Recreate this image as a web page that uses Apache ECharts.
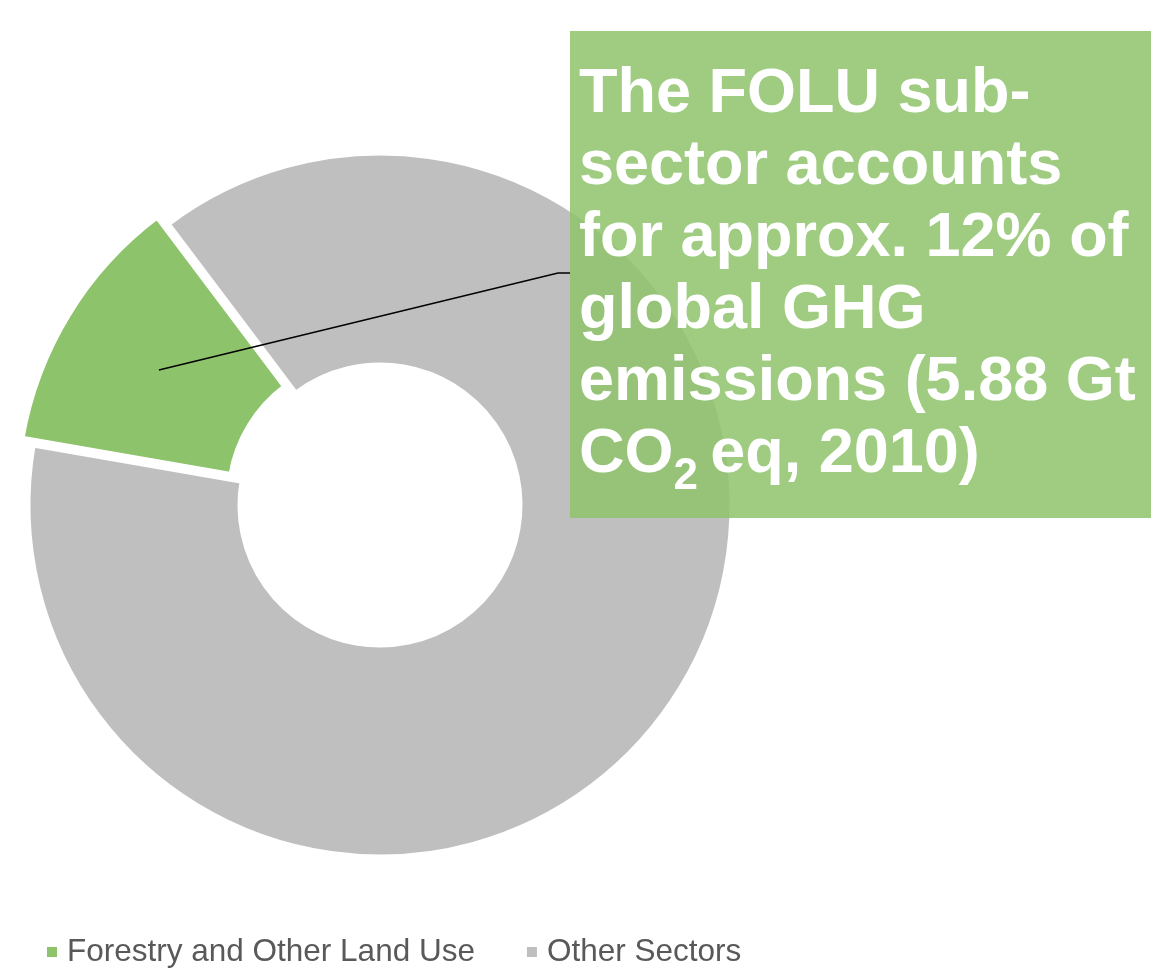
<!DOCTYPE html>
<html>
<head>
<meta charset="utf-8">
<script src="https://cdn.jsdelivr.net/npm/echarts@6/dist/echarts.min.js"></script>
<style>
  html, body { margin: 0; padding: 0; background: #fff; }
  #chart { width: 1151px; height: 970px; }
</style>
</head>
<body>
<div id="chart"></div>
<script>
const categories = ['Forestry and Other Land Use', 'Other Sectors']
const shares = [12, 88]
const colors = ['#8dc36b', '#bfbfbf']

const calloutLines = [
  'The FOLU sub-',
  'sector accounts',
  'for approx. 12% of',
  'global GHG',
  'emissions (5.88 Gt',
  '{m|CO}{sub|2 }{m|eq, 2010)}'
]

const center = [380, 505]
const radius = [140, 352]
const startAngle = 170.2
const explode = 13

// leader line starts at the middle of the exploded FOLU slice
const total = shares.reduce((a, b) => a + b, 0)
const midDeg = startAngle - 360 * shares[0] / total / 2
const midRad = midDeg * Math.PI / 180
const rMid = (radius[0] + radius[1]) / 2 + explode
const lineStart = [center[0] + rMid * Math.cos(midRad), center[1] - rMid * Math.sin(midRad)]

const box = { x: 570, y: 31, width: 581, height: 487 }

const chart = echarts.init(document.getElementById('chart'))
chart.setOption({
  animation: false,
  backgroundColor: '#fff',
  legend: {
    left: 47,
    top: 936,
    padding: 0,
    icon: 'rect',
    itemWidth: 10,
    itemHeight: 10,
    itemGap: 52,
    selectedMode: false,
    itemStyle: { borderWidth: 0 },
    textStyle: {
      fontFamily: 'Liberation Sans, Arial, sans-serif',
      fontSize: 31.5,
      color: '#595959',
      padding: [0, 0, 0, 5]
    },
    data: categories
  },
  series: [{
    type: 'pie',
    center: center,
    radius: radius,
    startAngle: startAngle,
    clockwise: true,
    selectedMode: 'single',
    selectedOffset: explode,
    silent: true,
    label: { show: false },
    labelLine: { show: false },
    itemStyle: { borderColor: '#fff', borderWidth: 5 },
    emphasis: { disabled: true },
    select: { itemStyle: { borderColor: '#fff', borderWidth: 5 } },
    data: categories.map((name, i) => ({
      name,
      value: shares[i],
      selected: i === 0,
      itemStyle: { color: colors[i] },
      select: { itemStyle: { color: colors[i] } }
    }))
  }],
  graphic: [
    {
      type: 'polyline',
      z: 100,
      shape: { points: [lineStart, [558, 273], [box.x, 273]] },
      style: { stroke: '#000', lineWidth: 1.5, fill: null }
    },
    {
      type: 'rect',
      z: 101,
      shape: box,
      style: { fill: 'rgba(142,195,106,0.85)' }
    },
    {
      type: 'text',
      z: 102,
      x: 579,
      y: 59,
      style: {
        text: calloutLines.join('\n'),
        fill: '#fff',
        fontFamily: 'Liberation Sans, Arial, sans-serif',
        fontWeight: 'bold',
        fontSize: 63,
        lineHeight: 72,
        align: 'left',
        verticalAlign: 'top',
        rich: {
          m: { fontSize: 63, fontWeight: 'bold', lineHeight: 72, fill: '#fff' },
          sub: { fontSize: 44, fontWeight: 'bold', lineHeight: 72, height: 29, verticalAlign: 'bottom', fill: '#fff' }
        }
      }
    }
  ]
})
</script>
</body>
</html>
